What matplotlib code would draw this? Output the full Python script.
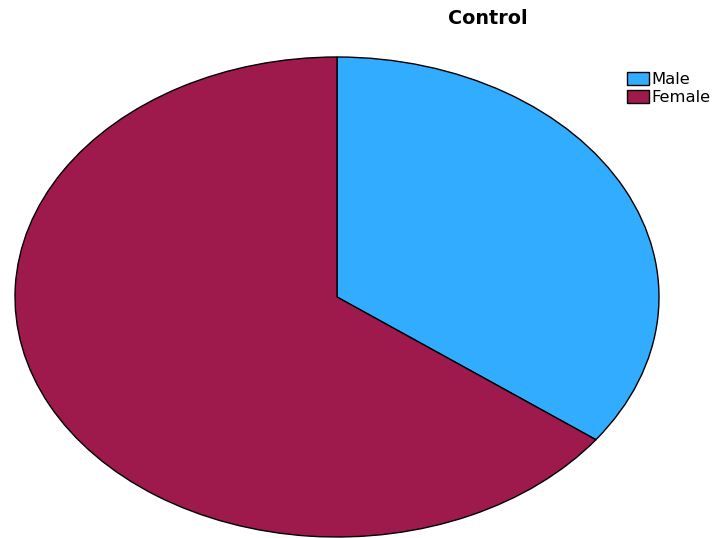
import matplotlib
matplotlib.use('agg')
import matplotlib.pyplot as plt

# group counts for the control group
labels = ['Male', 'Female']
counts = [13, 24]
colors = ['#31ACFF', '#9E1A4C']

fig = plt.figure(figsize=(7.13, 5.38), dpi=100)

# stretched pie: axes box spans the whole ellipse
ax = fig.add_axes([15 / 713, 1 / 538, 644 / 713, 480 / 538])
wedges, _ = ax.pie(counts, colors=colors, startangle=90, counterclock=False,
                   radius=1, wedgeprops=dict(edgecolor='black', linewidth=1.0))
ax.set_aspect('auto')
ax.set_xlim(-1, 1)
ax.set_ylim(-1, 1)
ax.axis('off')

fig.text(487.5 / 713, 1 - 19 / 538, 'Control', ha='center', va='center',
         fontsize=13.8, fontweight='bold', family='DejaVu Sans')

fig.legend(wedges, labels, loc='upper left',
           bbox_to_anchor=(627 / 713, 1 - 72 / 538), frameon=False,
           prop=dict(family='DejaVu Sans', size=11.8),
           handlelength=1.35, handleheight=0.8, handletextpad=0.15,
           labelspacing=0.2, borderpad=0, borderaxespad=0)

plt.savefig('out.png', dpi=100)
plt.close()
